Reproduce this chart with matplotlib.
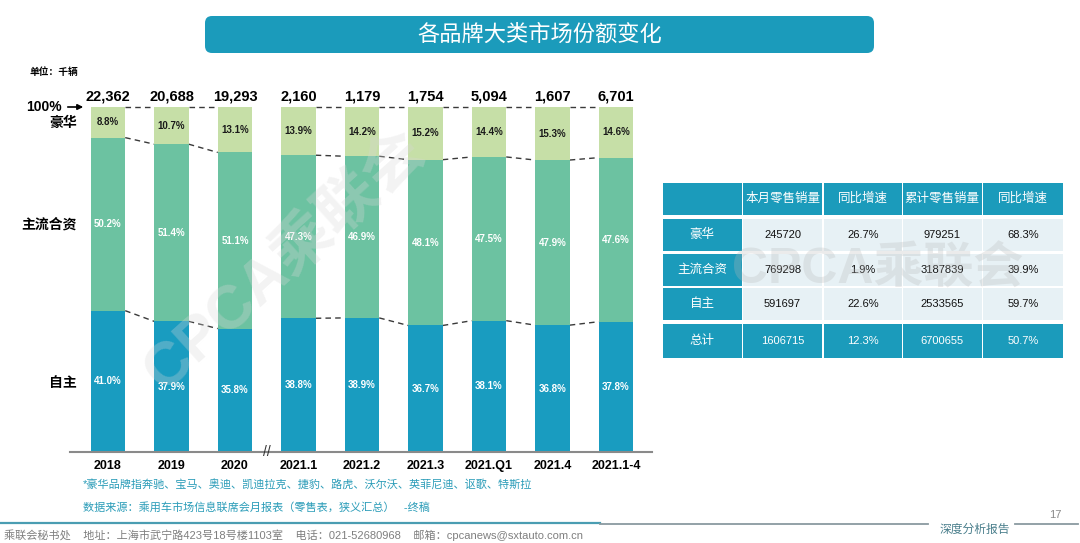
import matplotlib
matplotlib.use('Agg')
import matplotlib.pyplot as plt
from matplotlib.patches import FancyBboxPatch, Rectangle, FancyArrowPatch
import numpy as np

plt.rcParams['font.family'] = ['Liberation Sans', 'Noto Sans CJK SC', 'DejaVu Sans']

# ---------------- data ----------------
categories = ['2018', '2019', '2020', '2021.1', '2021.2', '2021.3', '2021.Q1', '2021.4', '2021.1-4']
totals = [22362, 20688, 19293, 2160, 1179, 1754, 5094, 1607, 6701]
self_share = [41.0, 37.9, 35.8, 38.8, 38.9, 36.7, 38.1, 36.8, 37.8]
jv_share = [50.2, 51.4, 51.1, 47.3, 46.9, 48.1, 47.5, 47.9, 47.6]
lux_share = [8.8, 10.7, 13.1, 13.9, 14.2, 15.2, 14.4, 15.3, 14.6]
break_after = 2  # axis break between 2020 and 2021.1

table_header = ['', '本月零售销量', '同比增速', '累计零售销量', '同比增速']
table_rows = ['豪华', '主流合资', '自主', '总计']
month_sales = [245720, 769298, 591697, 1606715]
month_yoy = ['26.7%', '1.9%', '22.6%', '12.3%']
cum_sales = [979251, 3187839, 2533565, 6700655]
cum_yoy = ['68.3%', '39.9%', '59.7%', '50.7%']

title = '各品牌大类市场份额变化'
unit_text = '单位：千辆'
note1 = '*豪华品牌指奔驰、宝马、奥迪、凯迪拉克、捷豹、路虎、沃尔沃、英菲尼迪、讴歌、特斯拉'
note2 = '数据来源：乘用车市场信息联席会月报表（零售表，狭义汇总）   -终稿'
footer = '乘联会秘书处    地址：上海市武宁路423号18号楼1103室    电话：021-52680968    邮箱：cpcanews@sxtauto.com.cn'

# ---------------- style ----------------
C_LUX = '#c6dfa7'
C_JV = '#6cc2a1'
C_SELF = '#199cc0'
C_TEAL = '#1b9bbb'
C_CELL = '#e7f1f5'
C_NOTE = '#2a9cb8'

W, H = 1080, 543
fig = plt.figure(figsize=(W / 100, H / 100), dpi=100)


def fbox(x0, y0, x1, y1):
    return [x0 / W, 1 - y1 / H, (x1 - x0) / W, (y1 - y0) / H]


# ---------------- bar chart ----------------
ax = fig.add_axes(fbox(70, 107.3, 652, 452))
x = np.arange(len(categories))
bw = 0.543
self_a = np.array(self_share)
jv_a = np.array(jv_share)
lux_a = np.array(lux_share)

ax.bar(x, self_a, bw, color=C_SELF, zorder=2)
ax.bar(x, jv_a, bw, bottom=self_a, color=C_JV, zorder=2)
ax.bar(x, lux_a, bw, bottom=self_a + jv_a, color=C_LUX, zorder=2)

ax.set_xlim(-0.598, 8.567)
ax.set_ylim(0, 100)

for i in range(len(x)):
    ax.text(x[i], self_a[i] / 2, f'{self_a[i]:.1f}%', ha='center', va='center',
            color='white', fontsize=7, fontweight='bold', zorder=3)
    ax.text(x[i], self_a[i] + jv_a[i] / 2, f'{jv_a[i]:.1f}%', ha='center', va='center',
            color='white', fontsize=7, fontweight='bold', zorder=3)
    ax.text(x[i], self_a[i] + jv_a[i] + lux_a[i] / 2, f'{lux_a[i]:.1f}%', ha='center',
            va='center', color='#1a1a1a', fontsize=7, fontweight='bold', zorder=3)
    ax.text(x[i], 103.0, f'{totals[i]:,}', ha='center', va='center',
            fontsize=10.5, fontweight='bold', color='black')

levels = [np.full(len(x), 100.0), self_a + jv_a, self_a]
for i in range(len(x) - 1):
    if i == break_after:
        continue
    for lv in levels:
        ax.plot([x[i] + bw / 2, x[i + 1] - bw / 2], [lv[i], lv[i + 1]],
                ls=(0, (4, 3)), color='#3a3a3a', lw=1, clip_on=False, zorder=1)

for s in ['top', 'right', 'left']:
    ax.spines[s].set_visible(False)
ax.spines['bottom'].set_color('#8a8a8a')
ax.spines['bottom'].set_linewidth(1.5)
ax.set_yticks([])
ax.set_xticks(x)
ax.set_xticklabels(categories, fontsize=9, fontweight='bold')
ax.tick_params(axis='x', length=0, pad=6)
ax.text(break_after + 0.5, 0, '//', ha='center', va='center', fontsize=10,
        color='#333333', clip_on=False)

# ---------------- table ----------------
tax = fig.add_axes(fbox(663, 183, 1063, 358))
tax.set_xlim(0, 400)
tax.set_ylim(175, 0)
tax.axis('off')
col_edges = [(0, 78.5), (80, 159), (161, 238.5), (240, 318.5), (320, 400)]
row_edges = [(0, 32), (36, 68.5), (71, 103), (105, 137), (141, 175)]

for ci, (c0, c1) in enumerate(col_edges):
    r0, r1 = row_edges[0]
    tax.add_patch(Rectangle((c0, r0), c1 - c0, r1 - r0, fc=C_TEAL, ec='none'))
    if table_header[ci]:
        tax.text((c0 + c1) / 2, (r0 + r1) / 2, table_header[ci], ha='center', va='center',
                 color='white', fontsize=9)

for ri, name in enumerate(table_rows):
    r0, r1 = row_edges[ri + 1]
    is_total = (ri == len(table_rows) - 1)
    vals = [name, str(month_sales[ri]), month_yoy[ri], str(cum_sales[ri]), cum_yoy[ri]]
    for ci, (c0, c1) in enumerate(col_edges):
        teal = is_total or ci == 0
        tax.add_patch(Rectangle((c0, r0), c1 - c0, r1 - r0,
                                fc=C_TEAL if teal else C_CELL, ec='none'))
        tax.text((c0 + c1) / 2, (r0 + r1) / 2, vals[ci], ha='center', va='center',
                 color='white' if teal else '#111111',
                 fontsize=9 if ci == 0 else 8)
tax.text(215, 87, 'CPCA乘联会', ha='center', va='center', fontsize=36,
         fontweight='bold', color='#b8b8b8', alpha=0.28, zorder=5)

# ---------------- overlay (decorations) ----------------
ov = fig.add_axes([0, 0, 1, 1], zorder=10)
ov.set_xlim(0, W)
ov.set_ylim(H, 0)
ov.axis('off')
ov.patch.set_alpha(0)

ov.add_patch(FancyBboxPatch((205, 16), 669, 37, boxstyle='round,pad=0,rounding_size=7',
                            fc=C_TEAL, ec='none'))
ov.text(540, 35, title, ha='center', va='center', fontsize=16, color='white')

ov.text(30, 72, unit_text, ha='left', va='center', fontsize=7, fontweight='bold')
ov.text(62, 107, '100%', ha='right', va='center', fontsize=10, fontweight='bold')
ov.add_patch(FancyArrowPatch((65, 107), (86, 107), arrowstyle='-|>', mutation_scale=8,
                             lw=1.2, color='black'))
ov.text(77, 123, '豪华', ha='right', va='center', fontsize=10, fontweight='bold')
ov.text(77, 225, '主流合资', ha='right', va='center', fontsize=10, fontweight='bold')
ov.text(77, 383, '自主', ha='right', va='center', fontsize=10, fontweight='bold')

ov.text(83, 485, note1, ha='left', va='center', fontsize=8, color=C_NOTE)
ov.text(83, 507, note2, ha='left', va='center', fontsize=8, color=C_NOTE)

ov.plot([0, 600], [523, 523], color='#4a9db2', lw=1.6)
ov.plot([600, 928], [524, 524], color='#8a9aa0', lw=1.3)
ov.plot([1015, 1078], [524, 524], color='#8a9aa0', lw=1.3)
ov.text(975, 530, '深度分析报告', ha='center', va='center', fontsize=8.5, color='#4a7f8c',
        style='italic')
ov.text(1055, 515, '17', ha='center', va='center', fontsize=8, color='#8a8a8a')
ov.text(4, 535, footer, ha='left', va='center', fontsize=8, color='#7f7f7f')

ov.text(285, 262, 'CPCA乘联会', ha='center', va='center', fontsize=44, fontweight='bold',
        rotation=42, color='#d8d8d8', alpha=0.3)

fig.savefig('out.png', dpi=100)
